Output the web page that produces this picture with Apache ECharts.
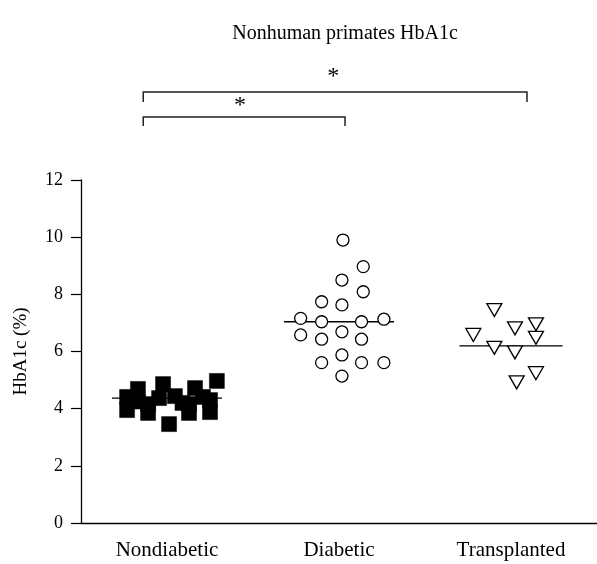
<!DOCTYPE html>
<html><head><meta charset="utf-8">
<script src="https://cdn.jsdelivr.net/npm/echarts@6/dist/echarts.min.js"></script>
<style>html,body{margin:0;padding:0;background:#fff}#c{width:597px;height:564px}</style>
</head><body><div id="c"></div>
<script>
const categories = ['Nondiabetic', 'Diabetic', 'Transplanted'];
const yTicks = [0, 2, 4, 6, 8, 10, 12];
const titleText = 'Nonhuman primates HbA1c';
const yName = 'HbA1c (%)';

// horizontal spread of each dot within its group (in category units) and its HbA1c value
const nondiabeticSpread = [-0.232, -0.232, -0.169, -0.11, -0.11, -0.046, -0.023, 0.012, 0.046, 0.128, 0.128, 0.163, 0.209, 0.25, 0.25, 0.29, -0.17, 0.09];
const nondiabeticValues = [4.41, 3.95, 4.69, 4.16, 3.85, 4.37, 4.86, 3.46, 4.44, 4.16, 3.85, 4.72, 4.41, 3.88, 4.30, 4.97, 4.25, 4.2];
const diabeticSpread = [0.023, 0.141, 0.017, 0.141, -0.101, 0.017, -0.223, -0.101, 0.131, 0.261, 0.017, -0.223, -0.101, 0.131, 0.017, -0.101, 0.131, 0.261, 0.017];
const diabeticValues = [9.90, 8.97, 8.50, 8.09, 7.74, 7.63, 7.16, 7.04, 7.04, 7.13, 6.69, 6.58, 6.43, 6.43, 5.88, 5.61, 5.61, 5.61, 5.14];
const transplantedSpread = [-0.097, -0.219, 0.023, 0.145, 0.145, -0.097, 0.023, 0.145, 0.033];
const transplantedValues = [7.45, 6.58, 6.81, 6.95, 6.48, 6.13, 5.97, 5.24, 4.92];
const meanValues = [4.37, 7.04, 6.20];
const meanHalfWidth = [0.32, 0.32, 0.30];

// significance brackets: [x from, x to, y bar, y drop, label x, label y, label]
const brackets = [
  [0.862, 3.093, 15.08, 14.73, 1.966, 16.04, '*'],
  [0.862, 2.035, 14.20, 13.89, 1.425, 15.03, '*']
];

const FONT = "'Liberation Serif','DejaVu Serif',serif";
const chart = echarts.init(document.getElementById('c'), null, {renderer: 'canvas'});

function pts(spread, vals, g) { return vals.map((v, i) => [g + 1 + spread[i], v]); }
const meanData = meanValues.map((m, i) => [i + 1, m, meanHalfWidth[i]]);

chart.setOption({
  animation: false,
  backgroundColor: '#fff',
  grid: {left: 81, right: 0, top: 180, bottom: 41, containLabel: false, outerBoundsMode: 'none'},
  graphic: [{type: 'text', x: 345, y: 34, style: {text: titleText, font: '20px ' + FONT, fill: '#000', textAlign: 'center', textVerticalAlign: 'middle'}}],
  xAxis: [{
    type: 'category', data: categories, boundaryGap: true,
    axisLine: {lineStyle: {color: '#000', width: 1.3}},
    axisTick: {alignWithLabel: true, length: 5, lineStyle: {color: '#000', width: 1.2}},
    axisLabel: {color: '#000', fontFamily: FONT, fontSize: 21, margin: 17},
    splitLine: {show: false}
  }, {
    type: 'value', min: 0.5, max: 3.5, show: false, splitLine: {show: false}
  }],
  yAxis: {
    type: 'value', min: 0, max: 12, interval: 2,
    name: yName, nameLocation: 'middle', nameGap: 50,
    nameTextStyle: {color: '#000', fontFamily: FONT, fontSize: 19},
    axisLine: {show: true, lineStyle: {color: '#000', width: 1.3}},
    axisTick: {show: true, length: 10, lineStyle: {color: '#000', width: 1.2}},
    axisLabel: {color: '#000', fontFamily: FONT, fontSize: 18, margin: 18,
      formatter: v => yTicks.includes(v) ? String(v) : ''},
    splitLine: {show: false}
  },
  series: [
    {type: 'custom', xAxisIndex: 1, data: meanData, z: 1,
      renderItem: (params, api) => {
        const a = api.coord([api.value(0) - api.value(2), api.value(1)]);
        const b = api.coord([api.value(0) + api.value(2), api.value(1)]);
        return {type: 'line', shape: {x1: a[0], y1: a[1], x2: b[0], y2: b[1]}, style: {stroke: '#000', lineWidth: 1.3}};
      }},
    {type: 'scatter', xAxisIndex: 1, data: pts(nondiabeticSpread, nondiabeticValues, 0), symbol: 'rect', symbolSize: 15,
      itemStyle: {color: '#000', borderColor: '#000', borderWidth: 0.5, opacity: 1}, z: 2},
    {type: 'scatter', xAxisIndex: 1, data: pts(diabeticSpread, diabeticValues, 1), symbol: 'circle', symbolSize: 12,
      itemStyle: {color: '#fff', borderColor: '#000', borderWidth: 1.3, opacity: 1}, z: 3},
    {type: 'scatter', xAxisIndex: 1, data: pts(transplantedSpread, transplantedValues, 2), symbol: 'triangle', symbolRotate: 180, symbolSize: [15, 13],
      itemStyle: {color: '#fff', borderColor: '#000', borderWidth: 1.3, opacity: 1}, z: 3},
    {type: 'custom', xAxisIndex: 1, data: brackets, clip: false, z: 4,
      renderItem: (params, api) => {
        const p1 = api.coord([api.value(0), api.value(2)]);
        const p2 = api.coord([api.value(1), api.value(2)]);
        const d = api.coord([api.value(0), api.value(3)]);
        const s = api.coord([api.value(4), api.value(5)]);
        return {type: 'group', children: [
          {type: 'polyline', shape: {points: [[p1[0], d[1]], [p1[0], p1[1]], [p2[0], p2[1]], [p2[0], d[1]]]},
            style: {stroke: '#222', lineWidth: 1.5, fill: null}},
          {type: 'text', x: s[0], y: s[1], style: {text: brackets[params.dataIndex][6], font: '24px ' + FONT, fill: '#000', textAlign: 'center', textVerticalAlign: 'top'}}
        ]};
      }}
  ]
});
</script></body></html>
